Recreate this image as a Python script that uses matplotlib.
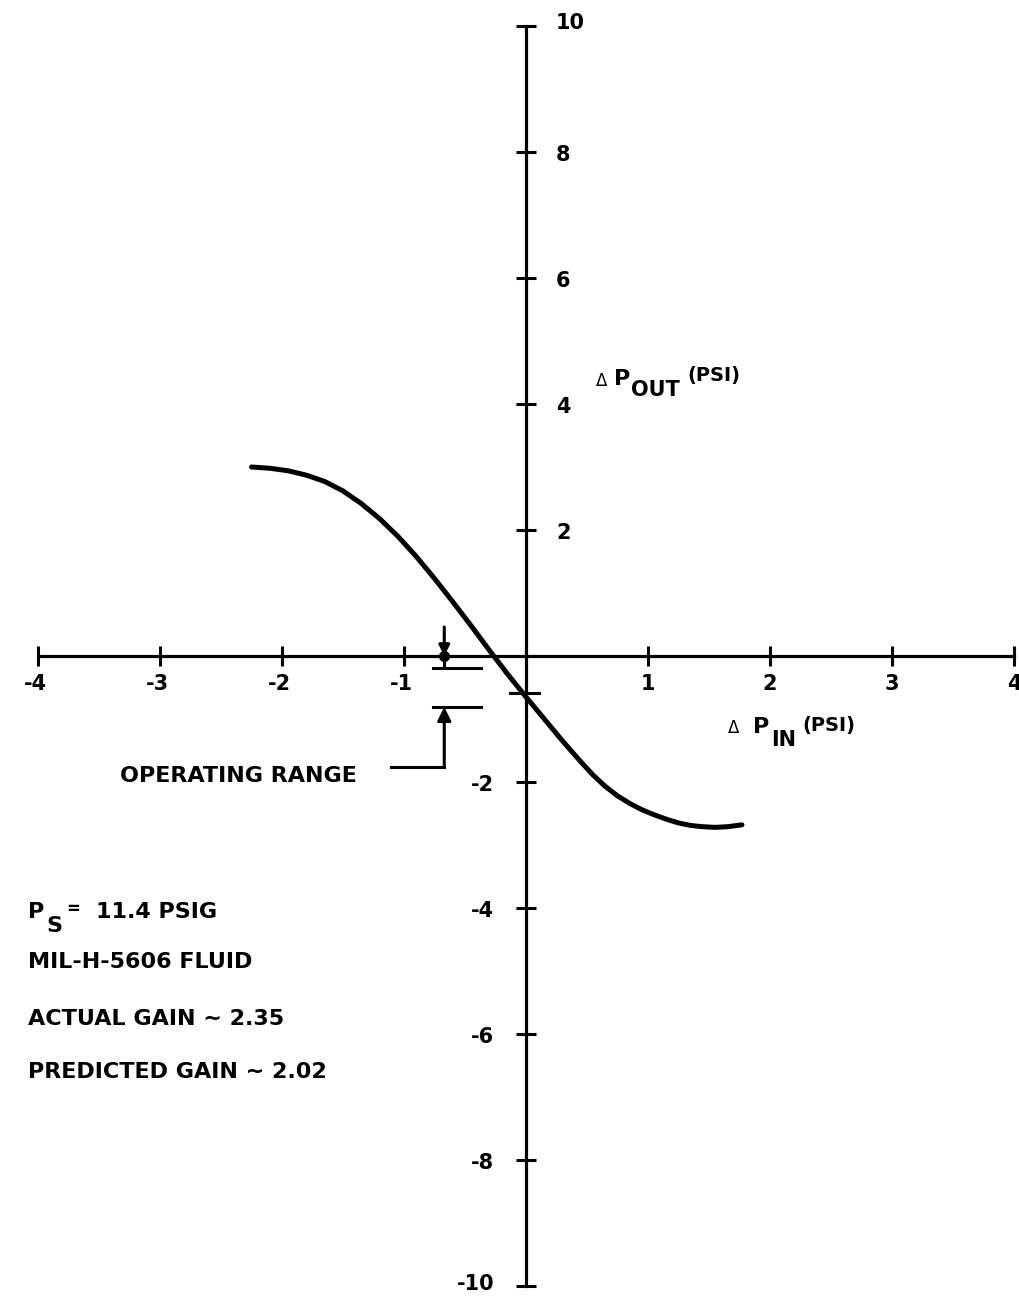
import numpy as np
import matplotlib
matplotlib.use('Agg')
import matplotlib.pyplot as plt

# ---------------- data ----------------
dp_in = [-2.25, -2.10, -1.95, -1.80, -1.65, -1.50, -1.35, -1.20, -1.05, -0.90,
         -0.75, -0.60, -0.45, -0.30, -0.15, 0.00, 0.15, 0.30, 0.45, 0.55,
         0.65, 0.75, 0.85, 0.95, 1.05, 1.15, 1.25, 1.35, 1.45, 1.55,
         1.65, 1.77]
dp_out = [3.00, 2.98, 2.94, 2.87, 2.77, 2.62, 2.42, 2.18, 1.90, 1.58,
          1.23, 0.86, 0.48, 0.09, -0.29, -0.65, -1.00, -1.35, -1.68, -1.89,
          -2.07, -2.22, -2.34, -2.44, -2.52, -2.59, -2.65, -2.69, -2.71, -2.72,
          -2.71, -2.68]

x_ticks = [-4, -3, -2, -1, 1, 2, 3, 4]
x_tick_labels = ['-4', '-3', '-2', '-1', '1', '2', '3', '4']
y_ticks = [10, 8, 6, 4, 2, -2, -4, -6, -8, -10]
y_tick_labels = ['10', '8', '6', '4', '2', '-2', '-4', '-6', '-8', '-10']

op_range_x = -0.67
op_arrow_top = 0.46
op_range_hi = -0.19
op_range_lo = -0.81
op_leader_y = -1.76
op_leader_x0 = -1.11
op_bar_x = [-0.76, -0.37]
op_point_y = -0.59

notes = ['MIL-H-5606 FLUID', 'ACTUAL GAIN ~ 2.35', 'PREDICTED GAIN ~ 2.02']

# ---------------- figure ----------------
W, H = 1019, 1300
X0, SX = 526, 122.0
Y0, SY = 656, 63.0
fig = plt.figure(figsize=(W / 100, H / 100), dpi=100)
ax = fig.add_axes([0, 0, 1, 1])
ax.set_xlim(-X0 / SX, (W - X0) / SX)
ax.set_ylim(-(H - Y0) / SY, Y0 / SY)

for s in ['top', 'right']:
    ax.spines[s].set_visible(False)
ax.spines['left'].set_position(('data', 0))
ax.spines['bottom'].set_position(('data', 0))
ax.spines['left'].set_bounds(-10, 10)
ax.spines['bottom'].set_bounds(-4, 4)
for s in ['left', 'bottom']:
    ax.spines[s].set_linewidth(2.3)
ax.set_xticks(x_ticks)
ax.set_yticks(y_ticks)
ax.tick_params(axis='x', direction='inout', length=15, width=2.2,
               labelbottom=False)
ax.tick_params(axis='y', direction='inout', length=14, width=2.2,
               labelleft=False)

FS = 16


def ftext(px, py, s, **kw):
    kw.setdefault('fontsize', FS)
    kw.setdefault('va', 'center')
    kw.setdefault('fontweight', 'bold')
    fig.text(px / W, 1 - py / H, s, **kw)


# tick labels
for v, lab in zip(x_ticks, x_tick_labels):
    px = X0 + v * SX
    ftext(px - (3 if v < 0 else 0), 684, lab, ha='center', fontsize=15)
for v, lab in zip(y_ticks, y_tick_labels):
    py = Y0 - v * SY
    if v > 0:
        ftext(X0 + 30, py + (-3 if v == 10 else 3), lab, ha='left', fontsize=15)
    else:
        ftext(X0 - 32, py + (-2 if v == -10 else 3), lab, ha='right', fontsize=15)

# curve
ax.plot(dp_in, dp_out, color='black', lw=3.6, solid_capstyle='round',
        solid_joinstyle='round')

# operating point marker on y axis
ax.plot([-0.13, 0.11], [op_point_y, op_point_y], color='black', lw=2.2)

# operating range
ax.plot([op_range_x, op_range_x], [0, op_range_hi], color='black', lw=2.2)
ax.annotate('', xy=(op_range_x, 0.0), xytext=(op_range_x, op_arrow_top),
            arrowprops=dict(arrowstyle='-|>', lw=2.2, color='black',
                            mutation_scale=16, shrinkA=0, shrinkB=0))
ax.plot([op_range_x], [0], 'o', color='black', ms=7)
ax.plot(op_bar_x, [op_range_hi, op_range_hi], color='black', lw=2.2)
ax.plot(op_bar_x, [op_range_lo, op_range_lo], color='black', lw=2.2)
ax.annotate('', xy=(op_range_x, op_range_lo), xytext=(op_range_x, op_leader_y),
            arrowprops=dict(arrowstyle='-|>', lw=2.2, color='black',
                            mutation_scale=20, shrinkA=0, shrinkB=0))
ax.plot([op_leader_x0, op_range_x], [op_leader_y, op_leader_y],
        color='black', lw=2.2)
ftext(120, 776, 'OPERATING RANGE', ha='left', fontsize=16)

# axis titles
ftext(596, 381, 'Δ', ha='left', fontsize=12, fontweight='normal')
ftext(614, 379, 'P', ha='left', fontsize=16)
ftext(631, 390, 'OUT', ha='left', fontsize=15)
ftext(687, 376, '(PSI)', ha='left', fontsize=14)

ftext(728, 728, 'Δ', ha='left', fontsize=12, fontweight='normal')
ftext(753, 727, 'P', ha='left', fontsize=16)
ftext(771, 740, 'IN', ha='left', fontsize=15)
ftext(802, 726, '(PSI)', ha='left', fontsize=14)

# notes block
ftext(28, 912, 'P', ha='left')
ftext(46, 926, 'S', ha='left')
ftext(66, 909, '=', ha='left', fontsize=12)
ftext(96, 912, '11.4 PSIG', ha='left')
for i, t in enumerate(notes):
    ftext(28, [962, 1019, 1072][i], t, ha='left')

fig.savefig('out.png', dpi=100, facecolor='white')
